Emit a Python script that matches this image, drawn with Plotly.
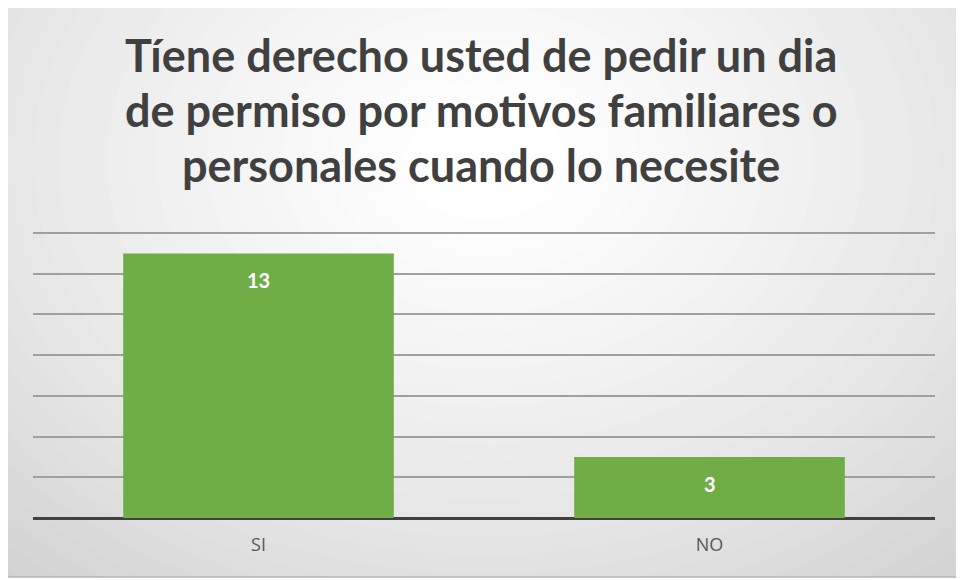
import plotly.graph_objects as go

# datos
categorias = ["SI", "NO"]
valores = [13, 3]
lineas_titulo = [
    "Tíene derecho usted de pedir un dia",
    "de permiso por motivos familiares o",
    "personales cuando lo necesite",
]

# la página tiene un margen de 8 px alrededor de la figura
OFF = 8
W, H = 964 - OFF, 580 - OFF
# área del gráfico en coordenadas de la imagen de referencia
X0, X1, Y0, Y1 = 33, 935, 229, 518
ML, MR, MT, MB = X0 - OFF, 964 - X1, Y0 - OFF, 580 - Y1
PW, PH = X1 - X0, Y1 - Y0


def px_x(x):
    return (x - X0) / PW


def px_y(y):
    return (Y1 - y) / PH


fig = go.Figure()

fig.add_trace(go.Bar(
    x=categorias,
    y=valores,
    marker=dict(color="#70AD47", line=dict(width=0)),
    hoverinfo="x+y",
))

# etiquetas de datos dentro de la barra
for cat, val in zip(categorias, valores):
    fig.add_annotation(
        x=cat, y=val, text=f"<b>{val}</b>", showarrow=False,
        yanchor="middle", yshift=-27,
        font=dict(family="Lato, Open Sans, sans-serif", size=20, color="white"),
    )

# título en tres líneas
for linea, yc in zip(lineas_titulo, [55, 110, 165]):
    fig.add_annotation(
        xref="paper", yref="paper", x=px_x(481), y=px_y(yc),
        text=f"<b>{linea}</b>", showarrow=False,
        xanchor="center", yanchor="middle",
        font=dict(family="Lato, Open Sans, sans-serif", size=45, color="#404040"),
    )

# fondo con degradado radial (decorativo)
shapes = [dict(type="rect", xref="paper", yref="paper", layer="below",
               x0=px_x(0), x1=px_x(964), y0=px_y(580), y1=px_y(0),
               fillcolor="#c9c9c9", line=dict(width=0))]
pasos = 30
cx, cy = 485, 160
for i in range(pasos):
    t = i / (pasos - 1)
    rx = 720 * (1 - t) + 80
    ry = 540 * (1 - t) + 60
    g = int(201 + (255 - 201) * t ** 0.7)
    shapes.append(dict(type="circle", xref="paper", yref="paper", layer="below",
                       x0=px_x(cx - rx), x1=px_x(cx + rx),
                       y0=px_y(cy + ry), y1=px_y(cy - ry),
                       fillcolor=f"rgb({g},{g},{g})", line=dict(width=0)))
# margen blanco exterior y borde
for x0, x1, y0, y1 in [(0, 964, 577, 580), (961, 964, 0, 580)]:
    shapes.append(dict(type="rect", xref="paper", yref="paper", layer="below",
                       x0=px_x(x0), x1=px_x(x1), y0=px_y(y1), y1=px_y(y0),
                       fillcolor="white", line=dict(width=0)))
shapes.append(dict(type="rect", xref="paper", yref="paper", layer="below",
                   x0=px_x(3), x1=px_x(961), y0=px_y(577), y1=px_y(4),
                   line=dict(color="#b5b5b5", width=1.5)))

fig.update_layout(
    width=W, height=H,
    margin=dict(l=ML, r=MR, t=MT, b=MB),
    paper_bgcolor="white",
    plot_bgcolor="rgba(0,0,0,0)",
    shapes=shapes,
    showlegend=False,
    bargap=0.4,
    xaxis=dict(
        showgrid=False, ticks="", showline=False,
        ticklabelstandoff=14,
        tickfont=dict(family="Open Sans, sans-serif", size=18, color="#595959"),
    ),
    yaxis=dict(
        range=[0, 14.2], dtick=2, showticklabels=False,
        showgrid=True, gridcolor="#a0a0a0", gridwidth=1.6,
        zeroline=True, zerolinecolor="#404040", zerolinewidth=3,
        showline=False,
    ),
)

fig.write_html("out.html")
